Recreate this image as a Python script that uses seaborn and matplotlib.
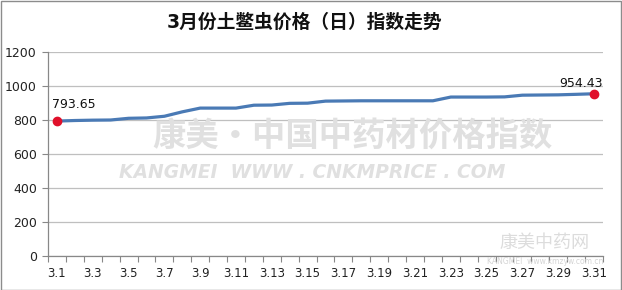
import matplotlib
matplotlib.use("Agg")
import matplotlib.pyplot as plt
import seaborn as sns
import pandas as pd
import numpy as np
from matplotlib.patches import Rectangle

dates = ["3.%d" % d for d in range(1, 32)]
values = [793.65, 797, 799, 800, 810, 812, 822, 848, 870, 870,
          870, 887, 888, 898, 899, 911, 912, 913, 913, 913,
          913, 913, 935, 935, 935, 936, 946, 947, 948, 951, 954.43]
title = "3月份土鳖虫价格（日）指数走势"
yticks = [0, 200, 400, 600, 800, 1000, 1200]

sns.set_theme(style="white")
plt.rcParams['font.family'] = ['DejaVu Sans', 'Noto Sans CJK SC']

df = pd.DataFrame({"idx": np.arange(len(dates)), "date": dates, "value": values})

fig = plt.figure(figsize=(6.22, 2.90), dpi=100)
ax = fig.add_axes([48/622, 1-256/290, (603-48)/622, (256-52)/290])

# watermark text (light)
fig.text(353/622, 1-136/290, "康美·中国中药材价格指数", ha="center", va="center",
         fontsize=24, fontweight="bold", color="#e0e0e0", family=['Noto Sans CJK SC'], zorder=0)
fig.text(312/622, 1-172/290, "KANGMEI  WWW . CNKMPRICE . COM", ha="center", va="center",
         fontsize=13.5, fontweight="bold", style="italic", color="#e0e0e0", zorder=0)
fig.text(545/622, 1-243/290, "康美中药网", ha="center", va="center",
         fontsize=13, color="#dcdcdc", family=['Noto Sans CJK SC'], zorder=0)
fig.text(545/622, 1-262/290, "KANGMEI  www.kmzyw.com.cn", ha="center", va="center",
         fontsize=5.5, color="#d5d5d5", zorder=0)
ax.patch.set_alpha(0)

sns.lineplot(data=df, x="idx", y="value", ax=ax, color="#4a7ab5", linewidth=2.3, zorder=3)
ax.plot([0, len(values)-1], [values[0], values[-1]], "o", color="#e0102a",
        markersize=6, zorder=4)
ax.text(0 - 0.25, values[0] + 60, f"{values[0]:.2f}", ha="left", va="bottom", fontsize=9, color="#111")
ax.text(len(values)-1 + 0.5, values[-1] + 22, f"{values[-1]:.2f}", ha="right", va="bottom",
        fontsize=9, color="#111")

ax.set_xlim(-0.5, len(dates)-0.5)
ax.set_ylim(0, 1200)
ax.set_yticks(yticks)
ax.set_yticklabels([str(v) for v in yticks], fontsize=9)
ax.set_xticks(np.arange(0, len(dates), 2))
ax.set_xticklabels(dates[::2], fontsize=8.5)
ax.set_xticks(np.arange(-0.5, len(dates), 1), minor=True)
ax.tick_params(axis="x", which="major", length=0, pad=8, colors="#222")
ax.tick_params(axis="x", which="minor", length=4, width=0.8, color="#888", direction="out", bottom=True)
ax.tick_params(axis="y", length=4, width=0.8, color="#888", direction="out", left=True, pad=4, colors="#222")
ax.tick_params(axis="y", which="major", color="#888")
ax.yaxis.grid(True, color="#bfbfbf", linewidth=0.9)
ax.set_axisbelow(True)
for s in ["top", "right"]:
    ax.spines[s].set_visible(False)
for s in ["left", "bottom"]:
    ax.spines[s].set_color("#888888")
    ax.spines[s].set_linewidth(0.9)
ax.set_xlabel("")
ax.set_ylabel("")

fig.text(305/622, 1-22/290, title, ha="center", va="center", fontsize=13.5, fontweight="bold",
         color="#111")

fig.patches.append(Rectangle((0.5/622, 0.5/290), 620.5/622, 288.5/290, transform=fig.transFigure,
                             fill=False, edgecolor="#8c8c8c", linewidth=1))

fig.savefig("out.png", dpi=100)
